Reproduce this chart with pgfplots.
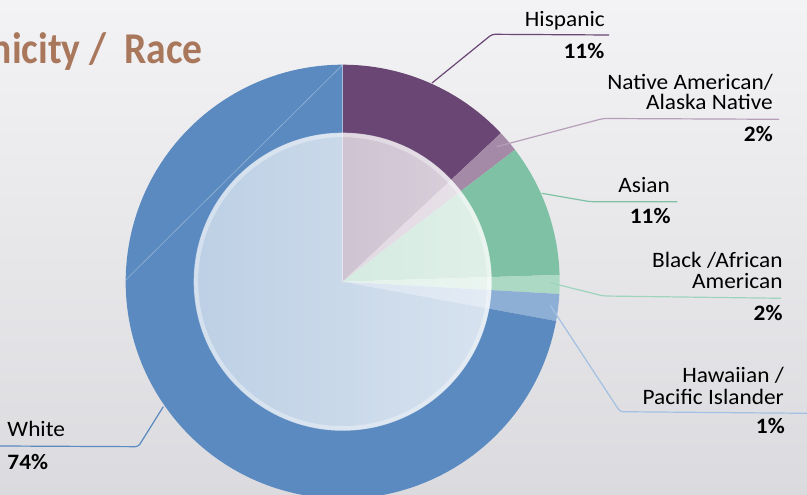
\documentclass[border=0pt]{standalone}
\usepackage{pgfplots}
\pgfplotsset{compat=1.18}
\usepackage{fontspec}
\setmainfont{Carlito}
\newfontfamily\labfont[FakeStretch=1.06]{Carlito}
\newfontfamily\titfont[FakeStretch=0.9]{Carlito}
\usetikzlibrary{fadings}
\definecolor{cHis}{HTML}{694673}
\definecolor{cNat}{HTML}{A48AA6}
\definecolor{cAsi}{HTML}{7EC1A4}
\definecolor{cBla}{HTML}{ACD9C4}
\definecolor{cHaw}{HTML}{8DAFD6}
\definecolor{cWhi}{HTML}{5B8AC0}
\definecolor{lNat}{HTML}{B59EB8}
\definecolor{lBla}{HTML}{9ED4BC}
\definecolor{lHaw}{HTML}{A3C0E2}
\definecolor{bgTop}{HTML}{F3F3F5}
\definecolor{bgBot}{HTML}{DBDBDF}
\definecolor{cTitle}{HTML}{A9785C}
\tikzfading[name=fadeleft, left color=transparent!100, middle color=transparent!0, right color=transparent!0]
\tikzset{
  lab/.style={font=\labfont\fontsize{22}{22}\selectfont, text=black, inner sep=0pt, anchor=base east},
  pct/.style={font=\labfont\fontsize{22}{22}\selectfont\bfseries, text=black, inner sep=0pt, anchor=base east}}
% slice: start angle, end angle, colour, radius
\newcommand\slice[4]{\fill[#3] (axis cs:342.7,213.3) -- ++(#1:#4) arc[start angle=#1, end angle=#2, radius=#4] -- cycle;}
\begin{document}
\begin{tikzpicture}
\useasboundingbox (0,0) rectangle (807pt,495pt);
\clip (0,0) rectangle (807pt,495pt);
\begin{axis}[at={(0,0)}, anchor=south west, scale only axis,
  width=807pt, height=495pt, xmin=0, xmax=807, ymin=0, ymax=495,
  hide axis, clip=false]
\fill[top color=bgTop, bottom color=bgBot] (axis cs:0,0) rectangle (axis cs:807,495);
% shares (percent of circle): Hispanic 13.0, Native 1.6, Asian 9.9, Black 1.4, Hawaiian 2.0, White 72.1
\slice{90}{43.2}{cHis}{217pt}
\slice{43.2}{37.44}{cNat}{217pt}
\slice{37.44}{1.8}{cAsi}{217pt}
\slice{1.8}{-3.24}{cBla}{217pt}
\slice{-3.24}{-10.44}{cHaw}{217pt}
\slice{-10.44}{-270}{cWhi}{217pt}
\draw[white, opacity=0.35, line width=0.6pt] (axis cs:125.7,215) -- (axis cs:342.7,430.3);
\draw[white, opacity=0.35, line width=0.6pt] (axis cs:342.7,213.3) -- (axis cs:342.7,430.3);
% inner glassy overlay
\fill[white, fill opacity=0.6] (axis cs:342.7,213.3) circle[radius=149pt];
\fill[white, fill opacity=0.4, path fading=fadeleft] (axis cs:342.7,213.3) circle[radius=149pt];
\draw[white, opacity=0.35, line width=4pt] (axis cs:342.7,213.3) circle[radius=146.5pt];
% leader lines
\addplot[draw=cHis, line width=1.2pt, no markers, rounded corners=3pt] coordinates {(432,412) (492,460.7) (609,460)};
\addplot[draw=lNat, line width=1.2pt, no markers, rounded corners=3pt] coordinates {(496.7,348.3) (603,376.5) (779,375.7)};
\addplot[draw=cAsi, line width=1.2pt, no markers, rounded corners=3pt] coordinates {(541.7,301.7) (590,293.3) (677.3,293.3)};
\addplot[draw=lBla, line width=1.2pt, no markers, rounded corners=3pt] coordinates {(550,212.3) (603.3,199) (781,196.7)};
\addplot[draw=lHaw, line width=1.2pt, no markers, rounded corners=3pt] coordinates {(550,190) (620,83.3) (807,81.7)};
\addplot[draw=cWhi, line width=1.2pt, no markers, rounded corners=3pt] coordinates {(163.3,88.3) (138.3,48.3) (0,49)};
% labels
\node[lab] at (axis cs:605,468.3) {Hispanic};
\node[pct] at (axis cs:604.5,436.7) {11\%};
\node[lab] at (axis cs:773,405.7) {Native American/};
\node[lab] at (axis cs:773,385) {Alaska Native};
\node[pct] at (axis cs:773,353.3) {2\%};
\node[lab] at (axis cs:670,302.7) {Asian};
\node[pct] at (axis cs:670.7,271) {11\%};
\node[lab] at (axis cs:782.7,227.7) {Black /African};
\node[lab] at (axis cs:782.7,206.7) {American};
\node[pct] at (axis cs:782.7,174.3) {2\%};
\node[lab] at (axis cs:784,112.3) {Hawaiian /};
\node[lab] at (axis cs:784,90.7) {Pacific Islander};
\node[pct] at (axis cs:785,61) {1\%};
\node[lab, anchor=base west] at (axis cs:7.3,58.3) {White};
\node[pct, anchor=base west] at (axis cs:7.3,25.7) {74\%};
\node[font=\titfont\fontsize{44}{44}\selectfont\bfseries, text=cTitle, inner sep=0pt, anchor=base east] at (axis cs:203,431.7) {Ethnicity /\ \ Race};
\end{axis}
\end{tikzpicture}
\end{document}
